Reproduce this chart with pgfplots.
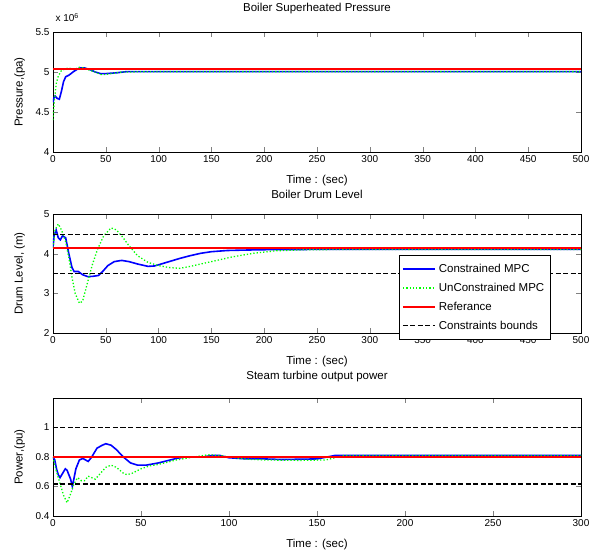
\documentclass[border=0pt]{standalone}
\usepackage{fontspec}
\setmainfont{Liberation Sans}
\usepackage{pgfplots}
\pgfplotsset{compat=1.18}
\definecolor{myred}{RGB}{255,0,0}
\definecolor{myblue}{RGB}{0,0,255}
\definecolor{mygreen}{RGB}{0,255,0}
\begin{document}
\begin{tikzpicture}
\path[use as bounding box] (-53pt,0pt) rectangle (545pt,-555pt);
\pgfplotsset{
  every axis/.append style={
    scale only axis, width=528pt,
    tick align=inside, tick pos=both, major tick length=5pt,
    /pgf/number format/assume math mode=true,
    tick label style={font=\fontsize{10}{12}\selectfont},
    label style={font=\fontsize{11.5}{13}\selectfont},
    title style={font=\fontsize{11.5}{13}\selectfont, at={(axis description cs:0.5,1)}, anchor=center},
    xlabel style={at={(axis description cs:0.5,0)}, anchor=center, yshift=-29pt},
    ylabel style={at={(axis description cs:-0.063,0.5)}, anchor=center},
    xlabel={Time : (sec)},
    axis line style={line width=0.6pt},
    legend image code/.code={\draw[#1] plot coordinates {(0pt,0pt) (16pt,0pt) (32pt,0pt)};},
  },
}
% ---------- top ----------
\begin{axis}[at={(0pt,-152pt)}, anchor=south west, height=120pt,
  xmin=0, xmax=500, ymin=4, ymax=5.5,
  xtick={0,50,...,500}, ytick={4,4.5,5,5.5},
  title={Boiler Superheated Pressure}, title style={yshift=17pt},
  ylabel={Pressure,(pa)}]
\addplot[color=myblue, line width=1.6pt] coordinates {(0,4.62) (1,4.68) (2,4.70) (4,4.67) (6,4.66) (8,4.76) (10,4.88) (12,4.94) (15,4.96) (20,5.01) (25,5.05) (30,5.05) (35,5.03) (40,5.00) (45,4.98) (50,4.98) (60,4.99) (70,5.005) (100,5.005) (500,5.005)};
\addplot[color=mygreen, line width=1.3pt, dotted] coordinates {(0,4.40) (1,4.60) (3,4.85) (5,4.95) (8,5.02) (12,5.04) (15,5.05) (20,5.03) (25,5.06) (30,5.05) (35,5.02) (40,5.00) (45,4.97) (50,4.97) (55,4.98) (65,5.00) (100,5.005) (500,5.005)};
\addplot[color=myred, line width=1.7pt] coordinates {(0,5.038) (250,5.038) (500,5.038)};
\end{axis}
\node[anchor=west, font=\fontsize{10}{12}\selectfont] at (-1pt,-18pt) {x 10\raisebox{0.6ex}{\fontsize{7}{8}\selectfont 6}};
% ---------- middle ----------
\begin{axis}[at={(0pt,-333pt)}, anchor=south west, height=119pt,
  xmin=0, xmax=500, ymin=2, ymax=5,
  xtick={0,50,...,500}, ytick={2,3,4,5},
  title={Boiler Drum Level}, title style={yshift=14pt},
  ylabel={Drum Level, (m)},
  legend cell align=left,
  legend style={at={(rel axis cs:0.655,0.655)}, anchor=north west,
    font=\fontsize{11.5}{13}\selectfont, draw=black, fill=white,
    row sep=5pt, inner xsep=3pt, inner ysep=7pt, line width=0.6pt,
    nodes={inner xsep=3pt}}]
\addplot[color=myblue, line width=1.6pt] coordinates {(0,4.15) (1,4.45) (3,4.60) (5,4.40) (7,4.35) (9,4.45) (12,4.40) (15,4.00) (18,3.65) (20,3.55) (24,3.55) (28,3.47) (33,3.42) (38,3.43) (43,3.45) (47,3.55) (52,3.70) (58,3.80) (65,3.83) (72,3.80) (80,3.74) (90,3.68) (96,3.69) (100,3.72) (110,3.80) (120,3.88) (130,3.95) (140,4.01) (150,4.05) (165,4.08) (180,4.09) (200,4.10) (250,4.108) (500,4.108)};
\addlegendentry{Constrained MPC}
\addplot[color=mygreen, line width=1.3pt, dotted] coordinates {(0,4.15) (2,4.60) (5,4.75) (8,4.60) (12,4.30) (15,3.90) (18,3.40) (21,3.00) (25,2.75) (28,2.80) (32,3.20) (37,3.70) (42,4.10) (48,4.45) (55,4.65) (60,4.60) (65,4.45) (72,4.20) (80,3.95) (90,3.78) (100,3.70) (110,3.65) (120,3.63) (130,3.68) (150,3.80) (170,3.92) (190,4.01) (210,4.07) (240,4.10) (300,4.108) (500,4.108)};
\addlegendentry{UnConstrained MPC}
\addplot[color=myred, line width=1.7pt] coordinates {(0,4.15) (250,4.15) (500,4.15)};
\addlegendentry{Referance}
\addplot[color=black, line width=1.4pt, dash pattern=on 5pt off 2.5pt] coordinates {(0,4.48) (500,4.48)};
\addlegendentry{Constraints bounds}
\addplot[color=black, line width=1.4pt, dash pattern=on 5pt off 2.5pt, forget plot] coordinates {(0,3.5) (500,3.5)};
\end{axis}
% ---------- bottom ----------
\begin{axis}[at={(0pt,-516pt)}, anchor=south west, height=118pt,
  xmin=0, xmax=300, ymin=0.4, ymax=1.2,
  xtick={0,50,...,300}, ytick={0.4,0.6,0.8,1},
  title={Steam turbine output power}, title style={yshift=15pt},
  ylabel={Power,(pu)}]
\addplot[color=myblue, line width=1.6pt] coordinates {(0,0.80) (1,0.78) (2,0.72) (3,0.68) (4,0.66) (5,0.68) (6,0.70) (7,0.72) (8,0.71) (9,0.68) (10,0.65) (11,0.60) (12,0.66) (13,0.72) (15,0.78) (17,0.79) (20,0.77) (22,0.80) (25,0.86) (28,0.88) (30,0.89) (33,0.88) (36,0.85) (40,0.80) (44,0.76) (48,0.745) (53,0.745) (60,0.76) (70,0.79) (75,0.80) (85,0.80) (90,0.81) (95,0.81) (100,0.795) (110,0.787) (120,0.787) (130,0.783) (150,0.787) (160,0.81) (300,0.81)};
\addplot[color=mygreen, line width=1.3pt, dotted] coordinates {(0,0.80) (2,0.70) (4,0.62) (6,0.54) (8,0.49) (10,0.55) (12,0.62) (14,0.66) (16,0.64) (18,0.64) (20,0.67) (22,0.66) (24,0.65) (27,0.69) (30,0.73) (33,0.745) (36,0.73) (40,0.69) (42,0.68) (45,0.69) (50,0.72) (55,0.74) (60,0.75) (70,0.78) (80,0.80) (88,0.815) (95,0.81) (100,0.80) (110,0.785) (120,0.78) (140,0.777) (155,0.78) (165,0.81) (300,0.81)};
\addplot[color=myred, line width=1.7pt] coordinates {(0,0.80) (300,0.80)};
\addplot[color=black, line width=1.4pt, dash pattern=on 5pt off 2.5pt] coordinates {(0,1.0) (300,1.0)};
\addplot[color=black, line width=1.4pt, dash pattern=on 5pt off 2.5pt] coordinates {(0,0.616) (300,0.616)};
\end{axis}
\end{tikzpicture}
\end{document}
